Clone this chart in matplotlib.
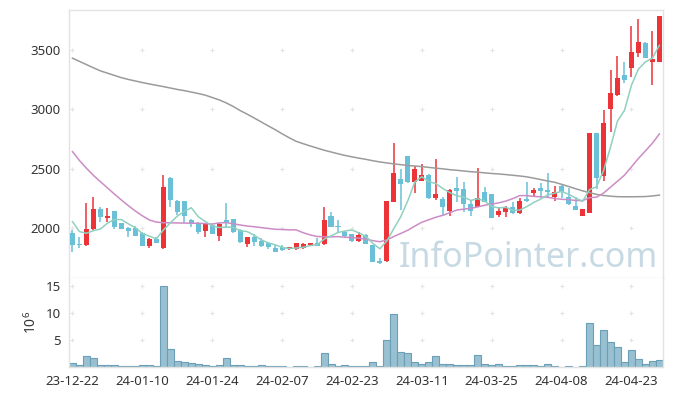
import numpy as np
import pandas as pd
import matplotlib
matplotlib.use("Agg")
from matplotlib import pyplot as plt

plt.rcParams['font.family'] = ['Noto Sans', 'DejaVu Sans']
plt.rcParams['mathtext.fontset'] = 'custom'
plt.rcParams['mathtext.rm'] = 'Noto Sans'
plt.rcParams['mathtext.it'] = 'Noto Sans'

# daily candles (23-12-22 .. 24-04-29), KRW
opens = [1958, 1868, 1859, 1994, 2162, 2090, 2146, 2045, 2003, 2000,
         1963, 1851, 1910, 1837, 2426, 2232, 2230, 2070, 2034, 1977,
         2028, 1938, 2070, 2078, 1986, 1868, 1929, 1893, 1879, 1832,
         1840, 1823, 1823, 1832, 1859, 1879, 1865, 2104, 2022, 1969,
         1949, 1896, 1944, 1859, 1725, 1727, 2224, 2413, 2609, 2393,
         2401, 2449, 2258, 2247, 2148, 2342, 2328, 2205, 2182, 2303,
         2286, 2112, 2140, 2182, 2126, 2244, 2295, 2337, 2322, 2266,
         2356, 2266, 2188, 2106, 2131, 2800, 2443, 3002, 3117, 3288,
         3352, 3473, 3560, 3402, 3402]
highs = [1986, 1930, 2210, 2261, 2179, 2173, 2146, 2048, 2010, 2022,
         1970, 1915, 1925, 2449, 2430, 2235, 2232, 2075, 2050, 2040,
         2035, 2045, 2210, 2080, 1990, 1930, 1949, 1916, 1885, 1859,
         1859, 1845, 1880, 1875, 1880, 1916, 2177, 2140, 2070, 1975,
         1955, 1972, 1950, 1862, 1747, 2232, 2716, 2497, 2610, 2525,
         2541, 2455, 2581, 2260, 2330, 2435, 2393, 2238, 2505, 2350,
         2290, 2182, 2190, 2224, 2253, 2393, 2340, 2379, 2463, 2359,
         2362, 2337, 2266, 2165, 2800, 2800, 2996, 3333, 3451, 3398,
         3704, 3760, 3565, 3656, 3788]
lows = [1803, 1832, 1855, 1986, 2056, 2056, 1990, 1990, 1929, 1935,
        1850, 1832, 1875, 1826, 2182, 2112, 2045, 2012, 1952, 1930,
        1952, 1893, 2005, 1962, 1874, 1840, 1853, 1840, 1828, 1800,
        1812, 1820, 1815, 1822, 1855, 1850, 1860, 2010, 1972, 1930,
        1888, 1888, 1865, 1715, 1700, 1720, 2218, 2154, 2380, 2295,
        2395, 2250, 2238, 2106, 2106, 2224, 2140, 2104, 2178, 2218,
        2085, 2093, 2093, 2120, 2120, 2224, 2270, 2258, 2262, 2232,
        2253, 2196, 2150, 2100, 2125, 2330, 2401, 2808, 3110, 3221,
        3276, 3445, 3430, 3207, 3400]
closes = [1859, 1862, 1994, 2162, 2093, 2104, 2014, 1994, 1980, 1938,
          1853, 1907, 1879, 2348, 2238, 2140, 2105, 2034, 1972, 2036,
          1955, 2036, 2050, 1966, 1887, 1924, 1887, 1853, 1840, 1803,
          1815, 1840, 1874, 1868, 1874, 1853, 2070, 2014, 2014, 1935,
          1896, 1944, 1868, 1719, 1712, 2230, 2463, 2373, 2387, 2497,
          2449, 2258, 2289, 2182, 2322, 2317, 2205, 2146, 2253, 2224,
          2089, 2146, 2173, 2126, 2232, 2232, 2322, 2314, 2305, 2303,
          2308, 2205, 2154, 2160, 2800, 2426, 2884, 3137, 3263, 3249,
          3484, 3566, 3436, 3422, 3788]
# the four closes before the first visible day (for the 5-day average)
prior_closes = [2282, 2064, 2050, 2025]

# volume, millions of shares
volumes = [0.74, 0.37, 2.0, 1.67, 0.37, 0.37, 0.37, 0.18, 0.18, 0.18,
           0.37, 0.37, 0.18, 14.9, 3.33, 1.1, 0.93, 0.74, 0.56, 0.37,
           0.18, 0.37, 1.67, 0.37, 0.37, 0.18, 0.18, 0.37, 0.18, 0.18,
           0.18, 0.05, 0.18, 0.18, 0.05, 0.18, 2.65, 0.55, 0.2, 0.4,
           0.18, 0.18, 0.18, 0.93, 0.18, 5.0, 9.8, 2.78, 2.6, 0.93,
           0.55, 0.93, 2.04, 0.55, 0.55, 0.37, 0.37, 0.37, 2.2, 0.55,
           0.37, 0.55, 0.18, 0.18, 0.37, 0.37, 0.37, 0.18, 0.55, 0.18,
           0.05, 0.18, 0.05, 0.18, 8.1, 4.07, 6.85, 4.6, 3.7, 0.93,
           3.15, 1.48, 0.55, 1.1, 1.3]

# 20- and 60-day moving averages as drawn (need history before the window)
ma20 = [2645, 2570, 2505, 2445, 2392, 2340, 2288, 2238, 2190, 2145,
        2105, 2070, 2052, 2047, 2046, 2045, 2044, 2043, 2042, 2040,
        2036, 2045, 2048, 2038, 2028, 2019, 2013, 2006, 1999, 1992,
        1990, 1987, 1987, 1963, 1945, 1931, 1929, 1928, 1930, 1925,
        1922, 1917, 1908, 1896, 1887, 1902, 1931, 1957, 1984, 2019,
        2051, 2072, 2093, 2109, 2131, 2154, 2161, 2168, 2180, 2194,
        2204, 2214, 2229, 2249, 2275, 2275, 2268, 2265, 2261, 2251,
        2244, 2241, 2234, 2233, 2257, 2262, 2296, 2346, 2396, 2447,
        2517, 2588, 2651, 2716, 2794]
ma60 = [3431, 3404, 3377, 3350, 3324, 3305, 3286, 3267, 3252, 3239,
        3226, 3214, 3203, 3192, 3180, 3168, 3158, 3146, 3134, 3120,
        3100, 3080, 3055, 3025, 2990, 2960, 2928, 2895, 2862, 2830,
        2795, 2762, 2732, 2712, 2693, 2675, 2657, 2642, 2627, 2613,
        2601, 2590, 2580, 2568, 2558, 2550, 2542, 2535, 2528, 2524,
        2519, 2512, 2506, 2500, 2493, 2488, 2482, 2476, 2472, 2466,
        2461, 2457, 2452, 2446, 2440, 2433, 2422, 2410, 2398, 2387,
        2370, 2352, 2333, 2315, 2300, 2285, 2276, 2270, 2266, 2265,
        2265, 2266, 2267, 2272, 2279]

date_labels = ['23-12-22', '24-01-10', '24-01-24', '24-02-07', '24-02-23',
               '24-03-11', '24-03-25', '24-04-08', '24-04-23']

UP = '#ec3338'
DOWN = '#6ac1d7'
GRID = '#e4e4e4'
TXT = '#333333'

n = len(closes)
x = np.arange(n)
o = np.array(opens); h = np.array(highs); l = np.array(lows); c = np.array(closes)
ma5 = pd.Series(prior_closes + closes).rolling(5).mean().to_numpy()[len(prior_closes):]

fig = plt.figure(figsize=(6.73, 3.96), dpi=100)
ax = fig.add_axes([0.1025, 0.298, 0.8825, 0.677])
axv = fig.add_axes([0.1025, 0.0732, 0.8825, 0.2248], sharex=ax)

xticks = np.arange(0, n, 10)

# faint "+" grid marks
for a, yt in ((ax, [2000, 2500, 3000, 3500]), (axv, [5, 10, 15])):
    gx, gy = np.meshgrid(xticks, yt)
    a.scatter(gx.ravel(), gy.ravel(), marker='+', s=12, c=GRID, lw=0.8, zorder=0)

# candles
colors = np.where(c >= o, UP, DOWN)
ax.vlines(x, l, h, colors=colors, lw=1.1, zorder=2)
body_lo = np.minimum(o, c)
body_h = np.maximum(np.abs(c - o), 3)
ax.bar(x, body_h, bottom=body_lo, width=0.72, color=colors, lw=0, zorder=3)

ax.plot(x, ma60, color='#9b9b9b', lw=1.1, zorder=4)
ax.plot(x, ma20, color='#cc8cc6', lw=1.1, zorder=4)
ax.plot(x, ma5, color='#90d0c0', lw=1.1, zorder=4)

ax.text(0.773, 0.075, 'InfoPointer.com', transform=ax.transAxes, fontsize=24.5,
        color='#c7dae4', ha='center', va='center', zorder=1)

ax.set_xlim(-0.5, n - 0.5)
ax.set_ylim(1582, 3837)
ax.set_yticks([2000, 2500, 3000, 3500])
ax.tick_params(axis='y', length=0, labelsize=9.5, labelcolor=TXT, pad=6)
ax.tick_params(axis='x', length=0, labelbottom=False)

# volume
axv.bar(x, volumes, width=1.0, color='#98c0d1', edgecolor='#6b9fb8', lw=0.8, zorder=2)
axv.set_ylim(0, 16.45)
axv.set_yticks([5, 10, 15])
axv.set_xticks(xticks)
axv.set_xticklabels(date_labels)
axv.tick_params(axis='both', length=0, labelsize=9.5, labelcolor=TXT, pad=6)
axv.set_ylabel(r'$10^6$', fontsize=10, color=TXT, labelpad=4)

for a in (ax, axv):
    for s in a.spines.values():
        s.set_color('#e2e2e2')
        s.set_linewidth(1.0)
axv.spines['top'].set_visible(False)

plt.savefig('out.png', dpi=100)
